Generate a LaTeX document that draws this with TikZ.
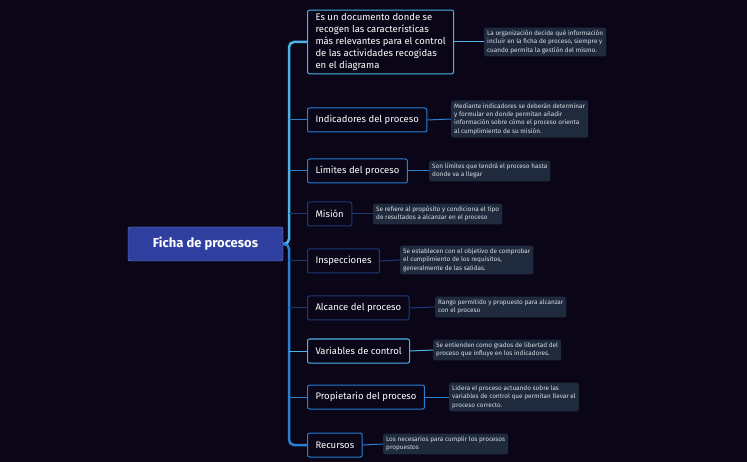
\documentclass[tikz,border=0pt]{standalone}
\usepackage{fontspec}
\setmainfont{Fira Sans}
\usetikzlibrary{positioning}
\definecolor{bgc}{HTML}{0A0618}
\definecolor{rootc}{HTML}{2E3FA0}
\definecolor{notec}{HTML}{1F2A3D}
\definecolor{lightb}{HTML}{4CB4E6}
\definecolor{midb}{HTML}{2A7FD0}
\definecolor{darkb}{HTML}{1D3A78}
\definecolor{notet}{HTML}{D8DCE4}

\tikzset{
    topic/.style={draw=#1, line width=1pt, rounded corners=2pt, fill=bgc,
        text=white, font=\fontsize{9.5}{12}\selectfont, anchor=west,
        align=left, inner xsep=8pt, minimum height=24pt},
    note/.style={fill=notec, rounded corners=2pt, text=notet, anchor=west,
        font=\fontsize{6.4}{8.2}\selectfont, align=left, inner sep=3pt},
    branch/.style={draw=#1, line width=1pt}
}

\begin{document}
\begin{tikzpicture}[x=1pt,y=-1pt]
    \fill [bgc] (0,0) rectangle (747,462);   % background

    \node [draw=rootc!60!white, fill=rootc, rounded corners=2pt, text=white,
        font=\fontsize{13}{15}\selectfont\bfseries, minimum width=155pt, minimum height=34pt]
        (root) at (205.5,244) {Ficha de procesos};

    % topics
    \node [topic=lightb] (t1) at (307,42) {Es un documento donde se\\recogen las características\\más relevantes para el control\\de las actividades recogidas\\en el diagrama};
    \node [topic=midb]  (t2) at (307,120) {Indicadores del proceso};
    \node [topic=midb]  (t3) at (307,171) {Límites del proceso};
    \node [topic=darkb] (t4) at (307,214) {Misión};
    \node [topic=darkb] (t5) at (307,261) {Inspecciones};
    \node [topic=darkb] (t6) at (307,308) {Alcance del proceso};
    \node [topic=lightb] (t7) at (307,351) {Variables de control};
    \node [topic=midb]  (t8) at (307,397) {Propietario del proceso};
    \node [topic=midb]  (t9) at (307,445) {Recursos};

    % notes
    \node [note] (n1) at (484,42) {La organización decide qué información\\incluir en la ficha de proceso, siempre y\\cuando permita la gestión del mismo.};
    \node [note] (n2) at (451,119) {Mediante indicadores se deberán determinar\\y formular en donde permitan añadir\\información sobre cómo el proceso orienta\\al cumplimiento de su misión.};
    \node [note] (n3) at (429,171) {Son límites que tendrá el proceso hasta\\donde va a llegar};
    \node [note] (n4) at (373,214) {Se refiere al propósito y condiciona el tipo\\de resultados a alcanzar en el proceso};
    \node [note] (n5) at (400,260) {Se establecen con el objetivo de comprobar\\el cumplimiento de los requisitos,\\generalmente de las salidas.};
    \node [note] (n6) at (435,307) {Rango permitido y propuesto para alcanzar\\con el proceso};
    \node [note] (n7) at (433,350) {Se entienden como grados de libertad del\\proceso que influye en los indicadores.};
    \node [note] (n8) at (449,397) {Lidera el proceso actuando sobre las\\variables de control que permitan llevar el\\proceso correcto.};
    \node [note] (n9) at (383,444) {Los necesarios para cumplir los procesos\\propuestos};

    % trunk and branches
    \coordinate (trunk) at (289,0);
    \draw [line width=2.5pt, lightb, rounded corners=5pt] (root.east) -- (trunk |- root.east) |- (t1.west);
    \draw [line width=2.5pt, midb, rounded corners=5pt] (root.east) -- (trunk |- root.east) |- (t9.west);
    \foreach \i/\c in {2/midb,3/midb,4/darkb,5/darkb,6/darkb,7/lightb,8/midb}
        \draw [branch=\c] (trunk |- t\i.west) -- (t\i.west);
    \foreach \i/\c in {1/lightb,2/midb,3/midb,4/darkb,5/darkb,6/darkb,7/lightb,8/midb,9/midb}
        \draw [branch=\c] (t\i.east) -- (n\i.west);
\end{tikzpicture}
\end{document}
